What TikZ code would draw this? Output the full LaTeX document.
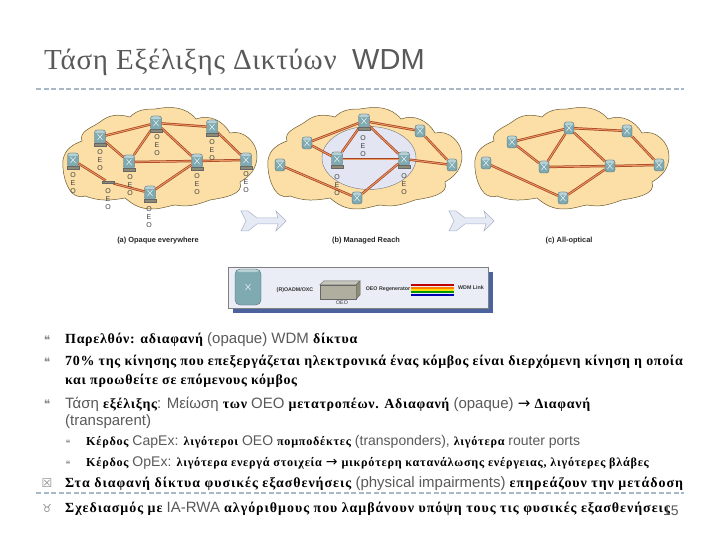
\documentclass[tikz,border=0pt]{standalone}
\usepackage{fontspec}
\setmainfont{Liberation Sans}
\newfontfamily\grfont[LetterSpace=5,Scale=0.93]{Liberation Serif}
\newfontfamily\grwfont[LetterSpace=7,Scale=0.93]{Liberation Serif}
\newfontfamily\grsfont[LetterSpace=6,Scale=0.87]{Liberation Serif}
\newfontfamily\titlefont[LetterSpace=2.5]{Liberation Serif}
\newfontfamily\symfont{DejaVu Sans}
\definecolor{cloudfill}{HTML}{FBDFA6}
\definecolor{cloudline}{HTML}{6B5A30}
\definecolor{reachfill}{HTML}{E3E6F2}
\definecolor{teal}{HTML}{7FAAB2}
\definecolor{tealtop}{HTML}{B7D0D4}
\definecolor{linkdark}{HTML}{A5452A}
\definecolor{linkcore}{HTML}{EE9A5E}
\definecolor{oeobar}{HTML}{8D8B76}
\definecolor{softgray}{HTML}{595959}
\definecolor{rulecol}{HTML}{A9B8C6}
\definecolor{chevfill}{HTML}{E5EAF5}
\definecolor{chevline}{HTML}{A9B2C8}
\definecolor{shadowblue}{HTML}{4A629E}
\usetikzlibrary{shapes.geometric, positioning, calc}
\newcommand{\gr}[1]{{\grfont\bfseries #1}}
\newcommand{\grw}[1]{{\grwfont\bfseries #1}}
\newcommand{\grs}[1]{{\grsfont\bfseries #1}}
\newcommand{\la}[1]{{\color{softgray}#1}}
\tikzset{
  router/.style={
    rectangle, rounded corners=2.5pt, draw=teal!60!black, fill=teal,
    line width=0.3pt, minimum width=11pt, minimum height=14pt,
    inner sep=0pt, outer sep=0pt,
    path picture={
      \fill[tealtop] (path picture bounding box.north west)
        rectangle ($(path picture bounding box.north east)+(0,-3.2pt)$);
      \draw[white, line width=0.4pt]
        ($(path picture bounding box.center)+(-2.5pt,-3pt)$) -- ($(path picture bounding box.center)+(2.5pt,3pt)$)
        ($(path picture bounding box.center)+(-2.5pt,3pt)$) -- ($(path picture bounding box.center)+(2.5pt,-3pt)$);
    }
  },
  smallrouter/.style={router, minimum width=10pt, minimum height=12pt},
  bar/.style={
    draw=black!60, fill=oeobar, line width=0.3pt, minimum width=12pt,
    minimum height=2.5pt, inner sep=0pt
  },
  band/.style={minimum width=43pt, minimum height=2pt, inner sep=0pt, fill=#1},
  oeo/.style={font=\fontsize{7}{7.8}\selectfont, text=black!75, align=center, inner sep=0pt},
  link/.style={draw=linkdark, line width=2.4pt},
  linkin/.style={draw=linkcore, line width=0.9pt},
  caption/.style={font=\fontsize{7.4}{8}\selectfont\bfseries, text=black!85, inner sep=0pt},
  legendtxt/.style={font=\fontsize{5.3}{6}\selectfont\bfseries, text=black!80, inner sep=0pt},
  line/.style={anchor=base west, inner sep=0pt, font=\fontsize{15}{17}\selectfont},
  subline/.style={anchor=base west, inner sep=0pt, font=\fontsize{14}{16}\selectfont},
  bul/.style={anchor=base, inner sep=0pt, text=softgray!70, font=\symfont\fontsize{12}{13}\selectfont},
  pics/cloud/.style={code={
    \draw[fill=cloudfill, draw=cloudline, line width=0.5pt]
      (63,160) to[out=80,in=200] (82,141) to[out=110,in=215] (100,122)
      to[out=40,in=165] (130,117) to[out=45,in=180] (155,109)
      to[out=10,in=130] (196,119) to[out=20,in=120] (230,133)
      to[out=15,in=90] (257,156) to[out=270,in=30] (240,182)
      to[out=290,in=10] (210,200) to[out=200,in=350] (175,205)
      to[out=190,in=0] (152,209) to[out=180,in=320] (125,198)
      to[out=190,in=-20] (85,196) to[out=200,in=265] (63,160) -- cycle;
  }},
  pics/chevron/.style={code={
    \draw[fill=chevfill, draw=chevline, line width=0.5pt]
      (0,-10) -- (7,-10) -- (16,-3) -- (37,-3) -- (35,-10) -- (45,0)
      -- (35,10) -- (37,3) -- (16,3) -- (7,10) -- (0,10) -- (5,0) -- cycle;
  }},
}
\begin{document}
\begin{tikzpicture}[x=1pt, y=-1pt]
  \useasboundingbox (0,0) rectangle (720,540);

  % title
  \node[anchor=base west, inner sep=0pt, text=softgray, font=\titlefont\fontsize{29}{32}\selectfont] (title) at (44,70) {Τάση Εξέλιξης Δικτύων};
  \node[anchor=base west, inner sep=0pt, text=softgray, font=\fontsize{29}{32}\selectfont] (titlewdm) at (352,70) {WDM};
  \coordinate (ruleL) at (36,89);
  \coordinate (ruleR) at (684,89);
  \draw[rulecol, line width=1.6pt, dash pattern=on 5pt off 2.5pt] (ruleL) -- (ruleR);

  % clouds
  \pic at (0,0) {cloud};
  \pic at (205,0) {cloud};
  \pic at (412,0) {cloud};
  \node[ellipse, draw=black!55, fill=reachfill, line width=0.4pt, minimum width=94pt, minimum height=63pt, inner sep=0pt] (reach) at (369,158) {};

  % routers (a)
  \foreach \nam/\px/\py in {a1/73/160, a2/100/137, a3/156/123, a4/212/127, a5/129/162, a6/197/161, a7/246/160, a8/150/193}
    \node[router] (\nam) at (\px,\py) {};
  \node[bar] (amid) at (108,182) {};
  % routers (b)
  \foreach \nam/\px/\py in {b1/280/165, b2/307/143, b4/420/131, b7/452/165, b8/357/198}
    \node[smallrouter] (\nam) at (\px,\py) {};
  \foreach \nam/\px/\py in {b3/364/121, b5/337/159, b6/404/159}
    \node[router] (\nam) at (\px,\py) {};
  % routers (c)
  \foreach \nam/\px/\py in {c1/486/163, c2/512/142, c3/569/128, c4/627/131, c5/544/167, c6/610/166, c7/659/165, c8/563/198}
    \node[smallrouter] (\nam) at (\px,\py) {};

  % links
  \foreach \net in {a,b,c} {
    \foreach \from/\to in {2/3, 2/5, 3/5, 3/6, 3/4, 4/7, 5/6, 6/7, 6/8} {
      \draw[link] (\net\from) -- (\net\to);
      \draw[linkin] (\net\from) -- (\net\to);
    }
  }
  \foreach \from/\to in {a1/amid, amid/a8, b1/b8, c1/c8} {
    \draw[link] (\from) -- (\to);
    \draw[linkin] (\from) -- (\to);
  }
  \node[bar] at (amid) {};
  \foreach \nam in {a1,a2,a3,a4,a5,a6,a7,a8,b3,b5,b6}
    \node[bar] at ($(\nam)+(0,7.5)$) {};

  % oeo labels
  \foreach \nam/\px/\py in {oa1/73/183, oa2/100/160, oa3/157/145, oa4/212/150, oa5/130/185, oa6/197/184, oa7/246/182, oa8/149/217, oam/108/199, ob3/363/146, ob5/337/185, ob6/404/184}
    \node[oeo] (\nam) at (\px,\py) {O\\E\\O};

  % arrows and captions
  \pic at (241,221) {chevron};
  \pic at (449,221) {chevron};
  \node[caption] (capa) at (158,241) {(a) Opaque everywhere};
  \node[caption] (capb) at (366,241) {(b) Managed Reach};
  \node[caption] (capc) at (569,241) {(c) All-optical};

  % legend
  \node[anchor=north west, minimum width=260pt, minimum height=41pt, fill=shadowblue, inner sep=0pt] (legshadow) at (233,272) {};
  \node[anchor=north west, minimum width=260pt, minimum height=41pt, draw=black!50, fill=reachfill!70!white, line width=0.4pt, inner sep=0pt] (legend) at (228,267) {};
  \node[router, rounded corners=5pt, minimum width=26pt, minimum height=36pt] (legrouter) at (248,287) {};
  \node[legendtxt] (legroadm) at (295,290) {(R)OADM/OXC};
  \node[draw=black!60, fill=oeobar!70!white, line width=0.4pt, minimum width=36pt, minimum height=14pt, inner sep=0pt] (legoeo) at (338,292) {};
  \draw[draw=black!60, fill=oeobar!50!white, line width=0.4pt] (legoeo.north west) -- ++(4,-4) -- ++(36,0) -- (legoeo.north east) -- cycle;
  \draw[draw=black!60, fill=oeobar, line width=0.4pt] (legoeo.north east) -- ++(4,-4) -- ++(0,14) -- (legoeo.south east) -- cycle;
  \node[legendtxt, font=\fontsize{5.3}{6}\selectfont] (legoeotxt) at (342,303) {OEO};
  \node[legendtxt] (legregen) at (388,289) {OEO Regenerator};
  \node[band=red!75!black, anchor=north west] (bandA) at (411,284) {};
  \node[band=orange, below=0pt of bandA] (bandB) {};
  \node[band=yellow!80!orange, below=0pt of bandB] (bandC) {};
  \node[band=green!60!black, below=0pt of bandC] (bandD) {};
  \node[band=blue!70!black, below=0pt of bandD] (bandE) {};
  \node[legendtxt] (legwdm) at (471,288) {WDM Link};

  % bottom rule
  \coordinate (lowL) at (36,493);
  \coordinate (lowR) at (684,493);
  \draw[rulecol, line width=1.4pt, dash pattern=on 5pt off 2.5pt] (lowL) -- (lowR);

  % text lines
  \node[line] (t1) at (65,343) {\gr{Παρελθόν: αδιαφανή} \la{(opaque) WDM} \gr{δίκτυα}};
  \node[line] (t2) at (65,365) {\gr{70\% της κίνησης που επεξεργάζεται ηλεκτρονικά ένας κόμβος είναι διερχόμενη κίνηση η οποία}};
  \node[line] (t3) at (65,384) {\gr{και προωθείτε σε επόμενους κόμβος}};
  \node[line] (t4) at (65,408) {\la{Τάση} \gr{εξέλιξης}\la{: Μείωση} \gr{των} \la{OEO} \gr{μετατροπέων. Αδιαφανή} \la{(opaque)} {\symfont →} \gr{Διαφανή}};
  \node[line] (t5) at (65,425) {\la{(transparent)}};
  \node[subline] (t6) at (86,445) {\grs{Κέρδος} \la{CapEx:} \grs{λιγότεροι} \la{OEO} \grs{πομποδέκτες} \la{(transponders),} \grs{λιγότερα} \la{router ports}};
  \node[subline] (t7) at (86,466) {\grs{Κέρδος} \la{OpEx:} \grs{λιγότερα ενεργά στοιχεία} {\symfont →} \grs{μικρότερη κατανάλωσης ενέργειας, λιγότερες βλάβες}};
  \node[line] (t8) at (65,487) {\grw{Στα διαφανή δίκτυα φυσικές εξασθενήσεις} \la{(physical impairments)} \grw{επηρεάζουν την μετάδοση}};
  \node[line] (t9) at (65,512) {\grw{Σχεδιασμός με} \la{IA-RWA} \grw{αλγόριθμους που λαμβάνουν υπόψη τους τις φυσικές εξασθενήσεις}};

  % bullets
  \foreach \nam/\py in {u1/344, u2/366, u3/408}
    \node[bul] (\nam) at (47,\py) {❝};
  \foreach \nam/\py in {u4/446, u5/467}
    \node[bul, font=\symfont\fontsize{9}{10}\selectfont] (\nam) at (68,\py) {❝};
  \node[bul, font=\symfont\fontsize{12}{13}\selectfont] (u6) at (47,487) {☒};
  \node[bul, font=\symfont\fontsize{11}{12}\selectfont] (u7) at (47,512) {♉};

  \node[anchor=base west, inner sep=0pt, text=softgray, font=\fontsize{14}{16}\selectfont] (pageno) at (663,515) {15};
\end{tikzpicture}
\end{document}
